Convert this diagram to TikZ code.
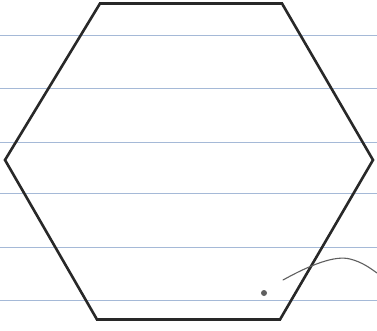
\documentclass[tikz,border=0pt]{standalone}
\begin{document}
\begin{tikzpicture}[x=1pt,y=-1pt,
  ruled/.style={draw=ruleblue,line width=1pt},
  hexline/.style={draw=inkdark,line width=2.6pt,line join=miter},
  tail/.style={draw=inkgray,line width=1.1pt,line cap=round}]
\definecolor{ruleblue}{RGB}{165,185,215}
\definecolor{inkdark}{RGB}{40,40,40}
\definecolor{inkgray}{RGB}{95,95,95}
\useasboundingbox (0,0) rectangle (377,330);
\fill[white] (0,0) rectangle (377,330);
\foreach \yy in {35,88,142,193,247,300} \draw[ruled] (0,\yy) -- (377,\yy);
\coordinate (tl) at (100,3.5);
\coordinate (tr) at (282,3.5);
\coordinate (r) at (373,160);
\coordinate (br) at (280,319.5);
\coordinate (bl) at (97,319.5);
\coordinate (l) at (5,160);
\draw[hexline] (tl) -- (tr) -- (r) -- (br) -- (bl) -- (l) -- cycle;
\node[circle,fill=inkgray,inner sep=0pt,minimum size=6pt] (dot) at (264,293) {};
\coordinate (c0) at (283,280);
\coordinate (c1) at (377,273);
\draw[tail] (c0) .. controls (310,265) and (335,255) .. (350,259) .. controls (362,262) and (370,268) .. (c1);
\end{tikzpicture}
\end{document}
